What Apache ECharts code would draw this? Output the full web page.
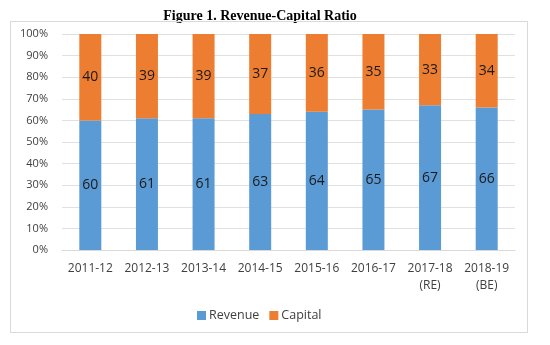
<!DOCTYPE html>
<html><head><meta charset="utf-8">
<script src="https://cdn.jsdelivr.net/npm/echarts@6/dist/echarts.min.js"></script>
<style>html,body{margin:0;padding:0;background:#fff}#c{width:550px;height:345px}
#frame{position:absolute;left:10px;top:21px;width:518px;height:312px;border:1px solid #d9d9d9;box-sizing:border-box;pointer-events:none}</style>
</head><body><div id="c"></div><div id="frame"></div>
<script>
const categories = ['2011-12','2012-13','2013-14','2014-15','2015-16','2016-17','2017-18\n(RE)','2018-19\n(BE)'];
const revenue = [60,61,61,63,64,65,67,66];
const capital = [40,39,39,37,36,35,33,34];
const yTicks = [0,10,20,30,40,50,60,70,80,90,100];
const chart = echarts.init(document.getElementById('c'));
const labelStyle = {show:true, position:'inside', color:'#1a1a1a', fontSize:14, fontFamily:'Open Sans'};
chart.setOption({
  animation:false,
  title:{text:'Figure 1. Revenue-Capital Ratio', left:255, textAlign:'center', top:4,
    textStyle:{fontFamily:'Liberation Serif', fontWeight:'bold', fontSize:14, color:'#000'}},
  grid:{left:62, right:35, top:34, bottom:95},
  legend:{bottom:18, left:192, itemWidth:9, itemHeight:9, itemGap:10, icon:'rect',
    textStyle:{fontFamily:'Open Sans', fontSize:12.5, color:'#404040', padding:[0,0,0,-2]},
    data:['Revenue','Capital']},
  xAxis:{type:'category', data:categories,
    axisLine:{lineStyle:{color:'#d9d9d9'}}, axisTick:{show:false},
    axisLabel:{fontFamily:'Open Sans', fontSize:12, color:'#404040', lineHeight:17, margin:10, interval:0}},
  yAxis:{type:'value', min:0, max:100, interval:10,
    axisLine:{show:false}, axisTick:{show:false},
    splitLine:{lineStyle:{color:'#e0e0e0'}},
    axisLabel:{formatter:'{value}%', fontFamily:'Open Sans', fontSize:11, color:'#404040', margin:14}},
  series:[
    {name:'Revenue', type:'bar', stack:'a', data:revenue, barWidth:22, itemStyle:{color:'#5B9BD5'}, label:labelStyle},
    {name:'Capital', type:'bar', stack:'a', data:capital, barWidth:22, itemStyle:{color:'#ED7D31'}, label:labelStyle}
  ]
});
</script></body></html>
